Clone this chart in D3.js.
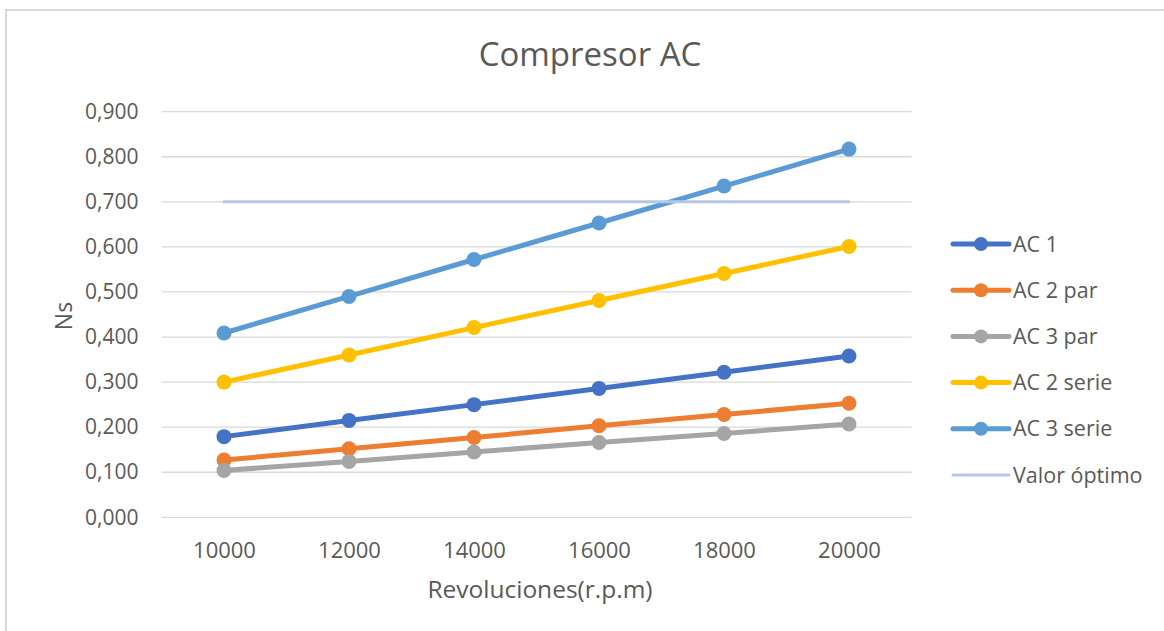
<!DOCTYPE html>
<html><head><meta charset="utf-8">
<script src="https://cdn.jsdelivr.net/npm/d3@7"></script>
<style>body{margin:0;background:#fff}svg{display:block}</style>
</head><body>
<svg id="c" width="1164" height="631"></svg>
<script>
const categories = ["10000","12000","14000","16000","18000","20000"];
const ac1 = [0.179,0.215,0.250,0.286,0.322,0.358];
const ac2par = [0.127,0.152,0.177,0.203,0.228,0.253];
const ac3par = [0.104,0.124,0.145,0.166,0.186,0.207];
const ac2serie = [0.300,0.360,0.421,0.481,0.541,0.601];
const ac3serie = [0.409,0.490,0.572,0.653,0.735,0.817];
const valorOptimo = [0.7,0.7,0.7,0.7,0.7,0.7];
const yTicks = [0,0.1,0.2,0.3,0.4,0.5,0.6,0.7,0.8,0.9];
const seriesNames = ["AC 1","AC 2 par","AC 3 par","AC 2 serie","AC 3 serie","Valor óptimo"];
const seriesColors = ["#4472c4","#ed7d31","#a5a5a5","#ffc000","#5b9bd5","#b4c7e7"];
const seriesData = [ac1,ac2par,ac3par,ac2serie,ac3serie,valorOptimo];

const svg = d3.select("#c");
const font = "'Open Sans', sans-serif";
const txt = "#595959";

svg.append("rect").attr("x",6).attr("y",10).attr("width",1200).attr("height",700)
  .attr("fill","none").attr("stroke","#d9d9d9").attr("stroke-width",2);

const L=161.5, R=911.5, T=111.7, B=517.3;
const x = d3.scalePoint().domain(categories).range([L,R]).padding(0.5);
const y = d3.scaleLinear().domain([0,0.9]).range([B,T]);

// gridlines
svg.append("g").selectAll("line").data(yTicks).join("line")
  .attr("x1",L).attr("x2",R).attr("y1",d=>y(d)).attr("y2",d=>y(d))
  .attr("stroke","#d9d9d9").attr("stroke-width",1.3);

// y axis labels
const yAx = svg.append("g").attr("transform",`translate(${L},0)`)
  .call(d3.axisLeft(y).tickValues(yTicks).tickSize(0).tickPadding(23)
  .tickFormat(d=>d3.format(".3f")(d).replace(".",",")));
yAx.select(".domain").remove();
yAx.selectAll("text").attr("font-family",font).attr("font-size",21).attr("fill",txt);

// x axis labels
const xAx = svg.append("g").attr("transform",`translate(0,${B})`)
  .call(d3.axisBottom(x).tickSize(0).tickPadding(25));
xAx.select(".domain").remove();
xAx.selectAll("text").attr("font-family",font).attr("font-size",22).attr("fill",txt);

// series
const line = d3.line().x((d,i)=>x(categories[i])).y(d=>y(d));
seriesData.forEach((data,si)=>{
  const isOpt = si===5;
  svg.append("path").datum(data).attr("d",line).attr("fill","none")
    .attr("stroke",seriesColors[si]).attr("stroke-width",isOpt?3:5)
    .attr("stroke-linecap","round");
  if(!isOpt){
    svg.append("g").selectAll("circle").data(data).join("circle")
      .attr("cx",(d,i)=>x(categories[i])).attr("cy",d=>y(d)).attr("r",7.5)
      .attr("fill",seriesColors[si]);
  }
});

// title
svg.append("text").attr("x",590).attr("y",66).attr("text-anchor","middle")
  .attr("font-family",font).attr("font-size",33).attr("fill",txt).text("Compresor AC");

// axis titles
svg.append("text").attr("x",540).attr("y",598).attr("text-anchor","middle")
  .attr("font-family",font).attr("font-size",24.5).attr("fill",txt).text("Revoluciones(r.p.m)");
svg.append("text").attr("transform","translate(72,316) rotate(-90)").attr("text-anchor","middle")
  .attr("font-family",font).attr("font-size",23).attr("fill",txt).text("Ns");

// legend
const leg = svg.append("g");
seriesNames.forEach((n,i)=>{
  const ly = 244 + i*46.2;
  const isOpt = i===5;
  leg.append("line").attr("x1",953).attr("x2",1009).attr("y1",ly).attr("y2",ly)
    .attr("stroke",seriesColors[i]).attr("stroke-width",isOpt?3:5).attr("stroke-linecap","round");
  if(!isOpt) leg.append("circle").attr("cx",981).attr("cy",ly).attr("r",7).attr("fill",seriesColors[i]);
  leg.append("text").attr("x",1013).attr("y",ly).attr("dy","0.35em")
    .attr("font-family",font).attr("font-size",21.5).attr("fill",txt).text(n);
});
</script>
</body></html>
